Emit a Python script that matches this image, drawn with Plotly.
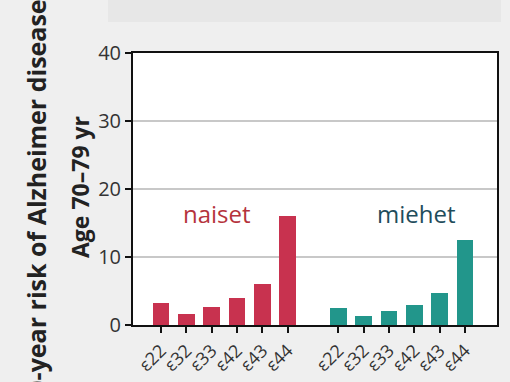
import plotly.graph_objects as go

genotypes = ["ε22", "ε32", "ε33", "ε42", "ε43", "ε44"]
naiset = [3.2, 1.6, 2.65, 3.9, 6.0, 16.0]
miehet = [2.45, 1.35, 2.0, 2.95, 4.7, 12.55]
group_labels = ["naiset", "miehet"]
y_ticks = [0, 10, 20, 30, 40]

pos_n = list(range(len(genotypes)))
pos_m = [p + len(genotypes) + 1 for p in pos_n]

RED = "#c8324f"
TEAL = "#22968b"

fig = go.Figure()
fig.add_trace(go.Bar(x=pos_n, y=naiset, width=0.67, marker=dict(color=RED, line=dict(width=0)), showlegend=False))
fig.add_trace(go.Bar(x=pos_m, y=miehet, width=0.67, marker=dict(color=TEAL, line=dict(width=0)), showlegend=False))

W, H = 510, 382
L, R, T, B = 133, 13, 53, 57
pw, ph = W - L - R, H - T - B

def px_x(x):
    return (x - L) / pw

def px_y(y):
    return (H - B - y) / ph

fig.update_layout(
    width=W, height=H,
    margin=dict(l=L, r=R, t=T, b=B, pad=0, autoexpand=False),
    paper_bgcolor="#efefef",
    plot_bgcolor="#ffffff",
    font=dict(family="Open Sans, sans-serif", color="#333333"),
    bargap=0,
    xaxis=dict(
        range=[-1.105, 13.263],
        tickmode="array",
        tickvals=pos_n + pos_m,
        ticktext=genotypes + genotypes,
        tickangle=-45,
        tickfont=dict(size=18, color="#333333"),
        ticks="outside", ticklen=6, tickwidth=1.5, tickcolor="#111111",
        showline=True, linecolor="#111111", linewidth=2, mirror=True,
        showgrid=False, zeroline=False, automargin=False,
    ),
    yaxis=dict(
        range=[0, 40],
        tickmode="array",
        tickvals=y_ticks,
        tickfont=dict(size=20, color="#333333"),
        ticks="outside", ticklen=6, tickwidth=1.5, tickcolor="#111111",
        showline=True, linecolor="#111111", linewidth=2, mirror=True,
        showgrid=True, gridcolor="#c8c8c8", gridwidth=2,
        zeroline=False, automargin=False,
    ),
    shapes=[dict(
        type="rect", xref="paper", yref="paper",
        x0=px_x(108), x1=px_x(501), y0=px_y(22), y1=px_y(-10),
        fillcolor="#e7e7e7", line=dict(width=0), layer="below",
    )],
    annotations=[
        dict(text=group_labels[0], x=2.21, y=16.4, xref="x", yref="y", showarrow=False,
             font=dict(size=24, color="#b5333c")),
        dict(text=group_labels[1], x=10.07, y=16.4, xref="x", yref="y", showarrow=False,
             font=dict(size=24, color="#1f4d5c")),
        dict(text="<b>Age 70–79 yr</b>", x=px_x(80), y=px_y(187), xref="paper", yref="paper",
             showarrow=False, textangle=-90, font=dict(size=23, color="#222222"),
             xanchor="center", yanchor="middle"),
        dict(text="<b>10-year risk of Alzheimer disease</b>", x=px_x(36), y=px_y(204), xref="paper", yref="paper",
             showarrow=False, textangle=-90,
             font=dict(family="Open Sans, sans-serif", size=25, color="#222222"),
             xanchor="center", yanchor="middle"),
    ],
)

fig.write_html("out.html", config={"displayModeBar": False},
               post_script="document.body.style.margin='0';document.body.style.overflow='hidden';")
